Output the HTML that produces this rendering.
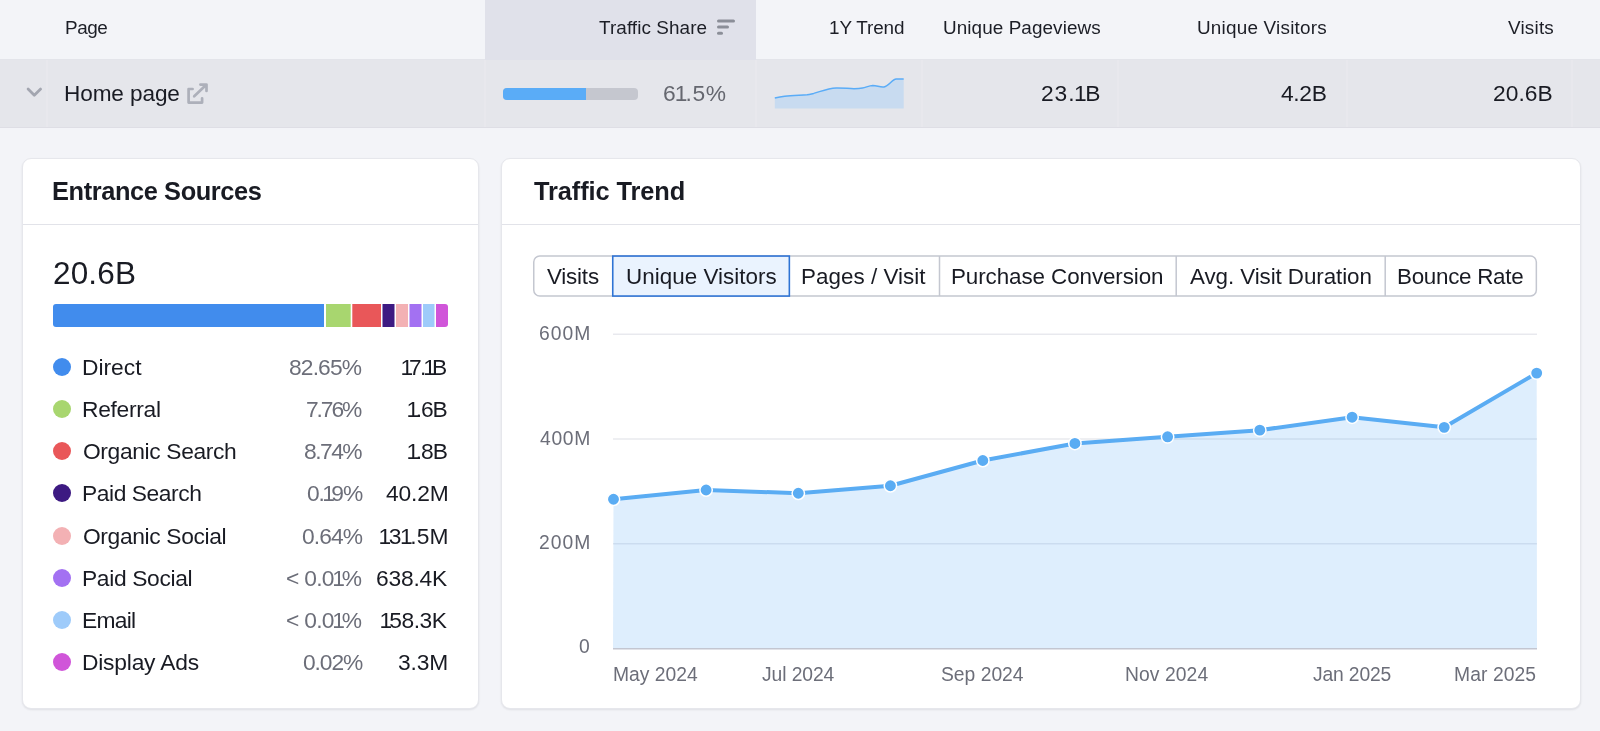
<!DOCTYPE html>
<html><head><meta charset="utf-8">
<style>
*{margin:0;padding:0;box-sizing:border-box}
html,body{width:1600px;height:731px;overflow:hidden;background:#f3f4f8;font-family:"Liberation Sans",sans-serif;color:#191b23}
.a{position:absolute;white-space:nowrap;line-height:1;will-change:transform}
#hdr{position:absolute;left:0;top:0;width:1600px;height:60px;background:#f3f4f8;border-bottom:1px solid #e3e4ea}
#sortcol{position:absolute;left:485px;top:0;width:271px;height:60px;background:#e0e1ea}
#row{position:absolute;left:0;top:60px;width:1600px;height:68px;background:#e5e6eb;border-bottom:1px solid #dedee5}
.vsep{position:absolute;top:60px;height:67px;width:1.5px;background:#e8e8ed}
.card{position:absolute;top:158px;height:551px;background:#fff;border:1px solid #e6e7ec;border-radius:9px;box-shadow:0 1px 2px rgba(25,27,35,.09)}
.cdiv{position:absolute;top:224px;height:1px;background:#e2e3e9}
.dot{position:absolute;width:18px;height:18px;border-radius:50%}
.tab{position:absolute;top:256px;height:41px;border:1px solid #c4c7d0;border-left:none;background:#fff}
</style></head><body>
<div id="hdr"></div>
<div id="sortcol"></div>
<svg class="a" style="left:716px;top:18px" width="21" height="18" viewBox="0 0 21 18">
<rect x="1" y="1.5" width="18" height="3" rx="1.5" fill="#8b8e98"/>
<rect x="1" y="7.5" width="12" height="3" rx="1.5" fill="#8b8e98"/>
<rect x="1" y="13.8" width="6" height="3" rx="1.5" fill="#8b8e98"/>
</svg>
<div id="row"></div>
<div class="vsep" style="left:46px"></div>
<div class="vsep" style="left:484px"></div>
<div class="vsep" style="left:755px"></div>
<div class="vsep" style="left:921px"></div>
<div class="vsep" style="left:1117px"></div>
<div class="vsep" style="left:1346px"></div>
<div class="vsep" style="left:1571px"></div>
<svg class="a" style="left:24px;top:85px" width="20" height="14" viewBox="0 0 20 14">
<path d="M4.1 4.1 L10.3 10.2 L16.6 4.1" fill="none" stroke="#a3a6b0" stroke-width="2.8" stroke-linecap="round" stroke-linejoin="round"/>
</svg>
<svg class="a" style="left:186px;top:82px" width="24" height="24" viewBox="0 0 24 24">
<path d="M6.6 7 H2.6 V20.6 H16.1 V16.3" fill="none" stroke="#adb0ba" stroke-width="2.7" stroke-linecap="round" stroke-linejoin="round"/>
<path d="M14.4 2.6 H20.5 V8.9 M20.3 2.8 L8.2 14.3" fill="none" stroke="#adb0ba" stroke-width="2.7" stroke-linecap="round" stroke-linejoin="round"/>
</svg>
<div class="a" style="left:503px;top:88px;width:135px;height:12px;border-radius:4px;background:#c5c7cf;overflow:hidden"><div style="width:83px;height:12px;background:#5aacf7"></div></div>
<svg class="a" style="left:770px;top:74px" width="140" height="40" viewBox="770 74 140 40">
<path d="M774.8 98.1 C778 97.4 781 96.8 784.7 96.2 C792 95.4 800 95.3 807.2 94.8 C810 94.4 811 94 813.7 93.4 C822 91 828 88.4 836.2 88 C842 87.8 848 88.6 854 88.75 C857 88.7 860 88.5 862.5 88 C866 87.4 869 85.6 872.8 85.5 C877 85.5 880 87.4 884 86.9 C889 86 892 79.3 896.2 79.1 L903.7 79.1 V108.4 H774.8 Z" fill="#c8dbf0"/>
<path d="M774.8 98.1 C778 97.4 781 96.8 784.7 96.2 C792 95.4 800 95.3 807.2 94.8 C810 94.4 811 94 813.7 93.4 C822 91 828 88.4 836.2 88 C842 87.8 848 88.6 854 88.75 C857 88.7 860 88.5 862.5 88 C866 87.4 869 85.6 872.8 85.5 C877 85.5 880 87.4 884 86.9 C889 86 892 79.3 896.2 79.1 L903.7 79.1" fill="none" stroke="#5aacf7" stroke-width="1.5"/>
</svg>

<!-- LEFT CARD -->
<div class="card" style="left:22px;width:457px"></div>
<div class="cdiv" style="left:23px;width:455px"></div>
<svg class="a" style="left:53px;top:304px" width="395" height="23" viewBox="53 304 395 23">
<defs><clipPath id="cb"><rect x="53" y="304" width="395" height="23" rx="3"/></clipPath></defs>
<g clip-path="url(#cb)">
<rect x="53" y="304" width="271" height="23" fill="#418ced"/>
<rect x="326" y="304" width="24.7" height="23" fill="#a8d66f"/>
<rect x="352.3" y="304" width="28.7" height="23" fill="#e95759"/>
<rect x="382.5" y="304" width="12" height="23" fill="#3d1a82"/>
<rect x="396" y="304" width="12" height="23" fill="#f3b1b4"/>
<rect x="409.5" y="304" width="12" height="23" fill="#a371f2"/>
<rect x="423" y="304" width="11.5" height="23" fill="#9ecbfa"/>
<rect x="436" y="304" width="12" height="23" fill="#d055d9"/>
</g></svg>
<div class="dot" style="left:53px;top:358.00px;background:#418ced"></div>
<div class="dot" style="left:53px;top:400.13px;background:#a8d66f"></div>
<div class="dot" style="left:53px;top:442.26px;background:#e95759"></div>
<div class="dot" style="left:53px;top:484.39px;background:#3d1a82"></div>
<div class="dot" style="left:53px;top:526.52px;background:#f3b1b4"></div>
<div class="dot" style="left:53px;top:568.65px;background:#a371f2"></div>
<div class="dot" style="left:53px;top:610.78px;background:#9ecbfa"></div>
<div class="dot" style="left:53px;top:652.91px;background:#d055d9"></div>

<!-- RIGHT CARD -->
<div class="card" style="left:501px;width:1080px"></div>
<div class="cdiv" style="left:502px;width:1078px"></div>
<svg class="a" style="left:0;top:0" width="1600" height="731" viewBox="0 0 1600 731">
<rect x="533.75" y="256.05" width="1002.6" height="40" rx="6" fill="#fff" stroke="#c4c7d0" stroke-width="1.5"/>
<rect x="938.75" y="256" width="1.5" height="40.1" fill="#c4c7d0"/>
<rect x="1175.45" y="256" width="1.5" height="40.1" fill="#c4c7d0"/>
<rect x="1384.45" y="256" width="1.5" height="40.1" fill="#c4c7d0"/>
<rect x="612.75" y="256.05" width="176.6" height="40" fill="#eaf3fe" stroke="#2f74d4" stroke-width="1.6"/>
</svg>
<svg class="a" style="left:0;top:0" width="1600" height="731" viewBox="0 0 1600 731">
<rect x="613" y="333.6" width="924" height="1.2" fill="#e3e4ea"/>
<rect x="613" y="438.4" width="924" height="1.2" fill="#e3e4ea"/>
<rect x="613" y="543.2" width="924" height="1.2" fill="#e3e4ea"/>
<polygon points="613,648.5 613.50,499.25 706.10,490.00 798.30,493.25 890.40,485.75 982.80,460.50 1074.90,443.45 1167.60,436.80 1259.80,430.15 1352.10,417.20 1444.20,427.35 1536.70,373.10 1537,648.5" fill="rgb(90,172,243)" fill-opacity="0.2"/>
<rect x="613" y="648" width="924" height="1.5" fill="#c3c6d1"/>
<polyline points="613.50,499.25 706.10,490.00 798.30,493.25 890.40,485.75 982.80,460.50 1074.90,443.45 1167.60,436.80 1259.80,430.15 1352.10,417.20 1444.20,427.35 1536.70,373.10" fill="none" stroke="#5aacf3" stroke-width="4" stroke-linejoin="round" stroke-linecap="round"/>
<circle cx="613.50" cy="499.25" r="6.2" fill="#5aacf3" stroke="#fff" stroke-width="1.5"/>
<circle cx="706.10" cy="490.00" r="6.2" fill="#5aacf3" stroke="#fff" stroke-width="1.5"/>
<circle cx="798.30" cy="493.25" r="6.2" fill="#5aacf3" stroke="#fff" stroke-width="1.5"/>
<circle cx="890.40" cy="485.75" r="6.2" fill="#5aacf3" stroke="#fff" stroke-width="1.5"/>
<circle cx="982.80" cy="460.50" r="6.2" fill="#5aacf3" stroke="#fff" stroke-width="1.5"/>
<circle cx="1074.90" cy="443.45" r="6.2" fill="#5aacf3" stroke="#fff" stroke-width="1.5"/>
<circle cx="1167.60" cy="436.80" r="6.2" fill="#5aacf3" stroke="#fff" stroke-width="1.5"/>
<circle cx="1259.80" cy="430.15" r="6.2" fill="#5aacf3" stroke="#fff" stroke-width="1.5"/>
<circle cx="1352.10" cy="417.20" r="6.2" fill="#5aacf3" stroke="#fff" stroke-width="1.5"/>
<circle cx="1444.20" cy="427.35" r="6.2" fill="#5aacf3" stroke="#fff" stroke-width="1.5"/>
<circle cx="1536.70" cy="373.10" r="6.2" fill="#5aacf3" stroke="#fff" stroke-width="1.5"/>
</svg>
<div class="a" style="left:64.7px;top:19.3px;font-size:18.9px;--ls:-0.433px;letter-spacing:var(--ls);color:#1c1e26;z-index:5">Page</div>
<div class="a" style="left:599px;top:19.3px;font-size:18.9px;--ls:0.083px;letter-spacing:var(--ls);color:#1c1e26;z-index:5">Traffic Share</div>
<div class="a" style="left:828.8px;top:19.3px;font-size:18.9px;--ls:-0.114px;letter-spacing:var(--ls);color:#1c1e26;z-index:5">1Y Trend</div>
<div class="a" style="left:942.8px;top:19.3px;font-size:18.9px;--ls:0.08px;letter-spacing:var(--ls);color:#1c1e26;z-index:5">Unique Pageviews</div>
<div class="a" style="left:1197px;top:19.3px;font-size:18.9px;--ls:0.214px;letter-spacing:var(--ls);color:#1c1e26;z-index:5">Unique Visitors</div>
<div class="a" style="left:1507.5px;top:19.3px;font-size:18.9px;--ls:0.2px;letter-spacing:var(--ls);color:#1c1e26;z-index:5">Visits</div>
<div class="a" style="left:63.7px;top:82.6px;font-size:22.6px;--ls:-0.112px;letter-spacing:var(--ls);color:#191b23;z-index:5">Home page</div>
<div class="a" style="left:662.7px;top:82.0px;font-size:22.8px;--ls:0.575px;letter-spacing:var(--ls);color:#65676f;z-index:5">6<span style="margin-left:-1.5px;letter-spacing:calc(var(--ls) - 2.5px)">1</span>.5%</div>
<div class="a" style="left:1040.5px;top:81.8px;font-size:22.8px;--ls:0.938px;letter-spacing:var(--ls);color:#191b23;z-index:5">23.<span style="margin-left:-1.5px;letter-spacing:calc(var(--ls) - 2.5px)">1</span>B</div>
<div class="a" style="left:1280.75px;top:81.8px;font-size:22.8px;--ls:-0.333px;letter-spacing:var(--ls);color:#191b23;z-index:5">4.2B</div>
<div class="a" style="left:1493.25px;top:81.8px;font-size:22.8px;--ls:0.038px;letter-spacing:var(--ls);color:#191b23;z-index:5">20.6B</div>
<div class="a" style="left:52.2px;top:179.3px;font-size:25.4px;--ls:-0.4px;letter-spacing:var(--ls);color:#191b23;font-weight:bold;z-index:5">Entrance Sources</div>
<div class="a" style="left:533.8px;top:179.3px;font-size:25.4px;--ls:-0.092px;letter-spacing:var(--ls);color:#191b23;font-weight:bold;z-index:5">Traffic Trend</div>
<div class="a" style="left:53.4px;top:257.7px;font-size:31.5px;--ls:0.15px;letter-spacing:var(--ls);color:#191b23;z-index:5">20.6B</div>
<div class="a" style="left:81.75px;top:356.0px;font-size:22.8px;--ls:-0.01px;letter-spacing:var(--ls);color:#191b23;z-index:5">Direct</div>
<div class="a" style="left:289.4px;top:356.0px;font-size:22.8px;--ls:-0.86px;letter-spacing:var(--ls);color:#6c6e79;z-index:5">82.65%</div>
<div class="a" style="left:402.4px;top:356.0px;font-size:22.8px;--ls:-1.625px;letter-spacing:var(--ls);color:#191b23;z-index:5"><span style="margin-left:-1.5px;letter-spacing:calc(var(--ls) - 2.5px)">1</span>7.<span style="margin-left:-1.5px;letter-spacing:calc(var(--ls) - 2.5px)">1</span>B</div>
<div class="a" style="left:81.75px;top:398.13px;font-size:22.8px;--ls:-0.293px;letter-spacing:var(--ls);color:#191b23;z-index:5">Referral</div>
<div class="a" style="left:306.4px;top:398.13px;font-size:22.8px;--ls:-2.075px;letter-spacing:var(--ls);color:#6c6e79;z-index:5">7.76%</div>
<div class="a" style="left:408px;top:398.13px;font-size:22.8px;--ls:-1.033px;letter-spacing:var(--ls);color:#191b23;z-index:5"><span style="margin-left:-1.5px;letter-spacing:calc(var(--ls) - 2.5px)">1</span>.6B</div>
<div class="a" style="left:82.75px;top:440.26px;font-size:22.8px;--ls:-0.358px;letter-spacing:var(--ls);color:#191b23;z-index:5">Organic Search</div>
<div class="a" style="left:304.1px;top:440.26px;font-size:22.8px;--ls:-1.5px;letter-spacing:var(--ls);color:#6c6e79;z-index:5">8.74%</div>
<div class="a" style="left:407.9px;top:440.26px;font-size:22.8px;--ls:-1.0px;letter-spacing:var(--ls);color:#191b23;z-index:5"><span style="margin-left:-1.5px;letter-spacing:calc(var(--ls) - 2.5px)">1</span>.8B</div>
<div class="a" style="left:81.75px;top:482.39px;font-size:22.8px;--ls:-0.435px;letter-spacing:var(--ls);color:#191b23;z-index:5">Paid Search</div>
<div class="a" style="left:306.6px;top:482.39px;font-size:22.8px;--ls:-1.125px;letter-spacing:var(--ls);color:#6c6e79;z-index:5">0.<span style="margin-left:-1.5px;letter-spacing:calc(var(--ls) - 2.5px)">1</span>9%</div>
<div class="a" style="left:385.5px;top:482.39px;font-size:22.8px;--ls:-0.15px;letter-spacing:var(--ls);color:#191b23;z-index:5">40.2M</div>
<div class="a" style="left:82.75px;top:524.52px;font-size:22.8px;--ls:-0.358px;letter-spacing:var(--ls);color:#191b23;z-index:5">Organic Social</div>
<div class="a" style="left:301.8px;top:524.52px;font-size:22.8px;--ls:-0.925px;letter-spacing:var(--ls);color:#6c6e79;z-index:5">0.64%</div>
<div class="a" style="left:379.6px;top:524.52px;font-size:22.8px;--ls:0.06px;letter-spacing:var(--ls);color:#191b23;z-index:5"><span style="margin-left:-1.5px;letter-spacing:calc(var(--ls) - 2.5px)">1</span>3<span style="margin-left:-1.5px;letter-spacing:calc(var(--ls) - 2.5px)">1</span>.5M</div>
<div class="a" style="left:81.75px;top:566.65px;font-size:22.8px;--ls:-0.345px;letter-spacing:var(--ls);color:#191b23;z-index:5">Paid Social</div>
<div class="a" style="left:286.4px;top:566.65px;font-size:22.8px;--ls:-0.717px;letter-spacing:var(--ls);color:#6c6e79;z-index:5">&lt; 0.0<span style="margin-left:-1.5px;letter-spacing:calc(var(--ls) - 2.5px)">1</span>%</div>
<div class="a" style="left:375.9px;top:566.65px;font-size:22.8px;--ls:-0.2px;letter-spacing:var(--ls);color:#191b23;z-index:5">638.4K</div>
<div class="a" style="left:81.75px;top:608.78px;font-size:22.8px;--ls:-0.737px;letter-spacing:var(--ls);color:#191b23;z-index:5">Email</div>
<div class="a" style="left:286.4px;top:608.78px;font-size:22.8px;--ls:-0.717px;letter-spacing:var(--ls);color:#6c6e79;z-index:5">&lt; 0.0<span style="margin-left:-1.5px;letter-spacing:calc(var(--ls) - 2.5px)">1</span>%</div>
<div class="a" style="left:381.2px;top:608.78px;font-size:22.8px;--ls:-0.46px;letter-spacing:var(--ls);color:#191b23;z-index:5"><span style="margin-left:-1.5px;letter-spacing:calc(var(--ls) - 2.5px)">1</span>58.3K</div>
<div class="a" style="left:81.75px;top:650.91px;font-size:22.8px;--ls:-0.205px;letter-spacing:var(--ls);color:#191b23;z-index:5">Display Ads</div>
<div class="a" style="left:302.5px;top:650.91px;font-size:22.8px;--ls:-1.1px;letter-spacing:var(--ls);color:#6c6e79;z-index:5">0.02%</div>
<div class="a" style="left:398.3px;top:650.91px;font-size:22.8px;--ls:-0.133px;letter-spacing:var(--ls);color:#191b23;z-index:5">3.3M</div>
<div class="a" style="left:547.4px;top:265.6px;font-size:22.4px;--ls:-0.2px;letter-spacing:var(--ls);color:#191b23;z-index:5">Visits</div>
<div class="a" style="left:625.9px;top:265.6px;font-size:22.4px;--ls:0.043px;letter-spacing:var(--ls);color:#191b23;z-index:5">Unique Visitors</div>
<div class="a" style="left:801px;top:265.6px;font-size:22.4px;--ls:0.042px;letter-spacing:var(--ls);color:#191b23;z-index:5">Pages / Visit</div>
<div class="a" style="left:951px;top:265.6px;font-size:22.4px;--ls:-0.083px;letter-spacing:var(--ls);color:#191b23;z-index:5">Purchase Conversion</div>
<div class="a" style="left:1190px;top:265.6px;font-size:22.4px;--ls:-0.083px;letter-spacing:var(--ls);color:#191b23;z-index:5">Avg. Visit Duration</div>
<div class="a" style="left:1397px;top:265.6px;font-size:22.4px;--ls:-0.28px;letter-spacing:var(--ls);color:#191b23;z-index:5">Bounce Rate</div>
<div class="a" style="left:538.5px;top:323.8px;font-size:19.3px;--ls:1.0px;letter-spacing:var(--ls);color:#6c6e79;z-index:5">600M</div>
<div class="a" style="left:539.5px;top:428.6px;font-size:19.3px;--ls:0.667px;letter-spacing:var(--ls);color:#6c6e79;z-index:5">400M</div>
<div class="a" style="left:538.5px;top:533.4px;font-size:19.3px;--ls:1.0px;letter-spacing:var(--ls);color:#6c6e79;z-index:5">200M</div>
<div class="a" style="left:578.6px;top:636.6px;font-size:19.3px;--ls:0px;letter-spacing:var(--ls);color:#6c6e79;z-index:5">0</div>
<div class="a" style="left:613px;top:664.6px;font-size:19.3px;--ls:0.0px;letter-spacing:var(--ls);color:#6c6e79;z-index:5">May 2024</div>
<div class="a" style="left:761.6px;top:664.6px;font-size:19.3px;--ls:-0.086px;letter-spacing:var(--ls);color:#6c6e79;z-index:5">Jul 2024</div>
<div class="a" style="left:941px;top:664.6px;font-size:19.3px;--ls:0.0px;letter-spacing:var(--ls);color:#6c6e79;z-index:5">Sep 2024</div>
<div class="a" style="left:1125.4px;top:664.6px;font-size:19.3px;--ls:0.086px;letter-spacing:var(--ls);color:#6c6e79;z-index:5">Nov 2024</div>
<div class="a" style="left:1313px;top:664.6px;font-size:19.3px;--ls:-0.143px;letter-spacing:var(--ls);color:#6c6e79;z-index:5">Jan 2025</div>
<div class="a" style="left:1454px;top:664.6px;font-size:19.3px;--ls:0.086px;letter-spacing:var(--ls);color:#6c6e79;z-index:5">Mar 2025</div>
</body></html>
